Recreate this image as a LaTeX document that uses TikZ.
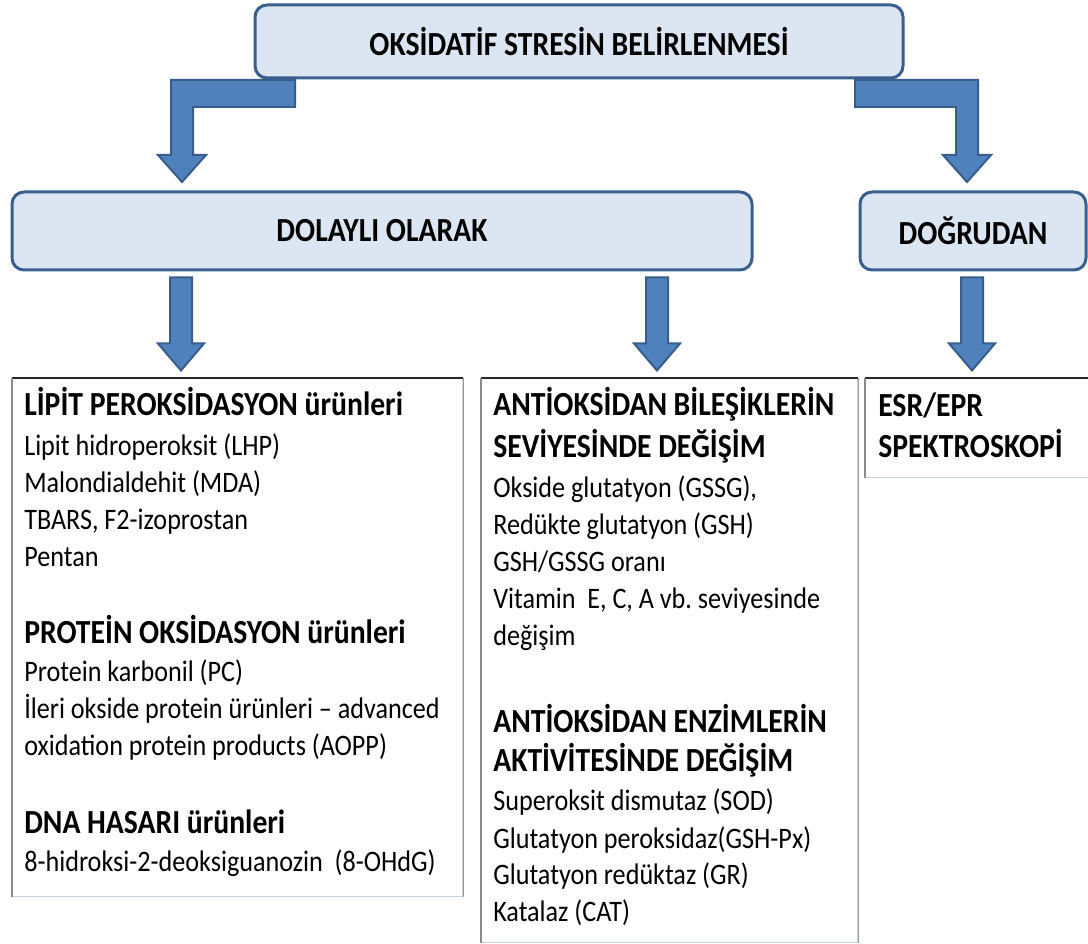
\documentclass[tikz,border=0pt]{standalone}
\usepackage{fontspec}
\setmainfont{Carlito}[FakeStretch=0.88]
\usetikzlibrary{positioning,calc}

\definecolor{boxfill}{RGB}{220,230,242}
\definecolor{boxline}{RGB}{58,95,142}
\definecolor{arrfill}{RGB}{79,129,189}
\definecolor{arrline}{RGB}{56,93,138}
\definecolor{frameline}{RGB}{200,210,226}

\newcommand\headfont{\bfseries\fontsize{25.3}{30}\selectfont\spaceskip=5pt\xspaceskip=5pt}
\newcommand\itemfont{\fontsize{22.3}{27.75}\selectfont\spaceskip=4.4pt\xspaceskip=4.4pt}

\begin{document}
\begin{tikzpicture}[x=0.75pt, y=-0.75pt,
  level/.style={draw=boxline, line width=2.25pt, fill=boxfill, rounded corners=9pt,
    font=\headfont, inner sep=0pt, minimum height=#1},
  frame/.style={draw=frameline, line width=1pt, fill=white, inner sep=0pt, anchor=north west},
  list/.style={anchor=base west, align=flush left, font=\itemfont, inner sep=0pt, text width=#1},
  blockarrow/.style={draw=arrline, line width=1.5pt, fill=arrfill, line join=miter}]

\useasboundingbox (0,0) rectangle (1088,944);

% levels
\node [level=54.75pt, minimum width=486pt] (top) at (579,41.5) {OKSİDATİF STRESİN BELİRLENMESİ};
\node [level=58.5pt, minimum width=555pt] (dolayli) at (382,231) {DOLAYLI OLARAK};
\node [level=58.5pt, minimum width=169.5pt] (dogrudan) [right=78.75pt of dolayli] {DOĞRUDAN};

% result boxes
\node [frame, minimum width=337.5pt, minimum height=388.5pt] (lipitbox) at (12,378) {};
\node [frame, minimum width=282pt, minimum height=423pt] (antibox) at (481,378) {};
\node [frame, minimum width=180pt, minimum height=74.25pt] (esrbox) at (865,378) {};
\foreach \b in {lipitbox,antibox,esrbox} {
  \draw [black!85, line width=1.2pt] (\b.north west) -- (\b.north east);
  \draw [black!45, line width=0.9pt] (\b.north west) -- (\b.south west);
  \draw [black!40, line width=0.9pt] (\b.north east) -- (\b.south east);
}

\node [list=330pt] (lipittxt) at (24,416) {%
{\headfont LİPİT PEROKSİDASYON ürünleri}\\[2.25pt]
Lipit hidroperoksit (LHP)\\
Malondialdehit (MDA)\\
TBARS, F2-izoprostan\\
Pentan\\[30pt]
{\headfont PROTEİN OKSİDASYON ürünleri}\\[0.75pt]
Protein karbonil (PC)\\
İleri okside protein ürünleri – advanced\\
oxidation protein products (AOPP)\\[30.75pt]
{\headfont DNA HASARI ürünleri}\\[0.75pt]
8-hidroksi-2-deoksiguanozin\ \ (8-OHdG)};

\node [list=275pt] (antitxt) at (493,416) {%
{\headfont ANTİOKSİDAN BİLEŞİKLERİN}\\[3.75pt]
{\headfont SEVİYESİNDE DEĞİŞİM}\\[2.25pt]
Okside glutatyon (GSSG),\\
Redükte glutatyon (GSH)\\
GSH/GSSG oranı\\
Vitamin\ \ E, C, A vb. seviyesinde\\
değişim\\[36.75pt]
{\headfont ANTİOKSİDAN ENZİMLERİN}\\[2.25pt]
{\headfont AKTİVİTESİNDE DEĞİŞİM}\\[1.5pt]
Superoksit dismutaz (SOD)\\
Glutatyon peroksidaz(GSH-Px)\\
Glutatyon redüktaz (GR)\\
Katalaz (CAT)};

\node [list=150pt] (esrtxt) at (878,417) {%
{\headfont ESR/EPR}\\[3pt]
{\headfont SPEKTROSKOPİ}};

% elbow arrows from the top level
\draw [blockarrow] ($(top.south west)+(41.5,0.5)$) -- ++(-124,0) -- ++(0,75) -- ++(-13,0)
  -- ++(24,27) -- ++(24,-27) -- ++(-13,0) -- ++(0,-48) -- ++(102,0) -- cycle;
\draw [blockarrow] ($(top.south east)+(-49.5,0.5)$) -- ++(123,0) -- ++(0,75) -- ++(13,0)
  -- ++(-24,27) -- ++(-24,-27) -- ++(13,0) -- ++(0,-48) -- ++(-101,0) -- cycle;

% straight arrows down to the boxes
\foreach \src/\dx in {dolayli/-201, dolayli/275, dogrudan/-1}
  \draw [blockarrow] ($(\src.south)+(\dx,6)$) ++(-11,0) -- ++(0,66) -- ++(-12,0)
    -- ++(23,27) -- ++(23,-27) -- ++(-12,0) -- ++(0,-66) -- cycle;
\end{tikzpicture}
\end{document}
